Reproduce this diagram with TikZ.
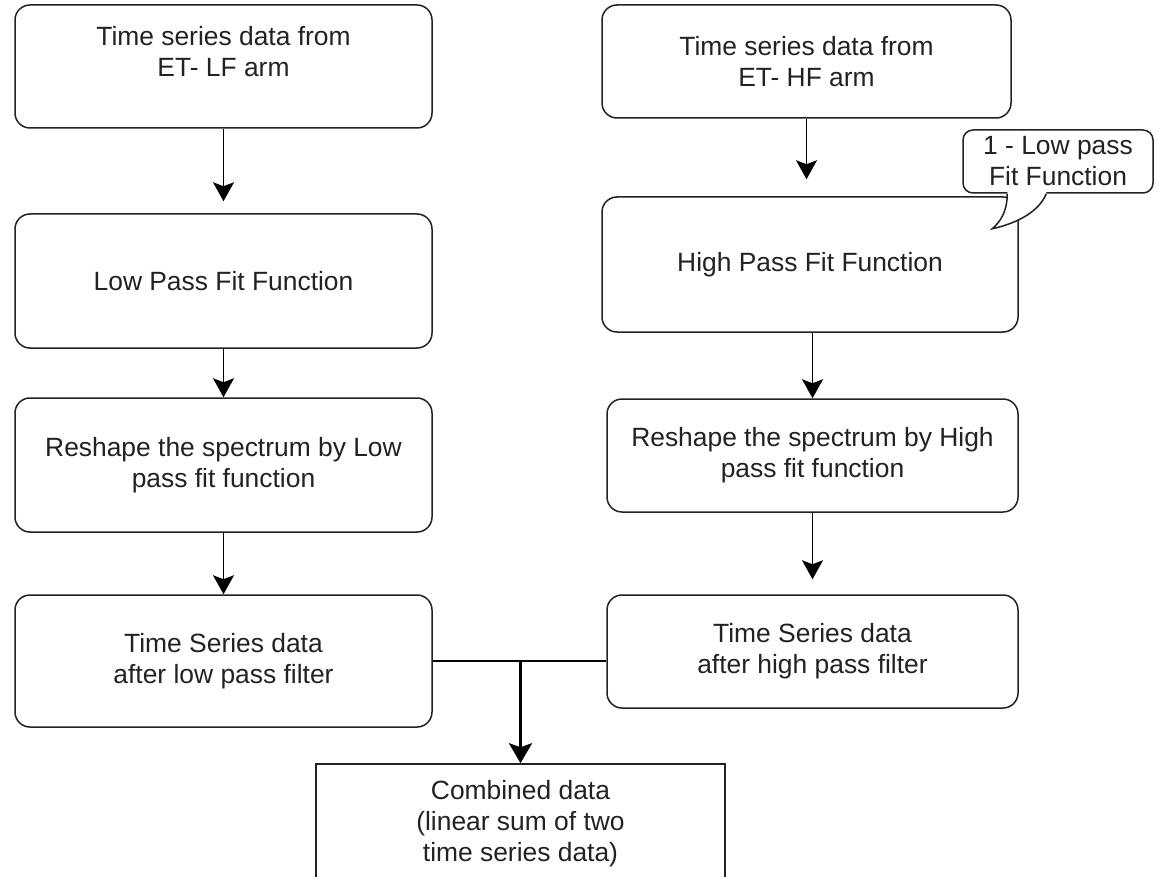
\documentclass[tikz,border=0pt]{standalone}
\usepackage{fontspec}
\setmainfont{Liberation Sans}
\usetikzlibrary{calc,arrows.meta}
\definecolor{inkgray}{RGB}{34,34,34}

\begin{document}
\begin{tikzpicture}[x=1pt, y=-1pt,
	flowbox/.style={draw=inkgray, line width=1.5pt, rounded corners=15pt, fill=white, align=center, inner sep=0pt, text=inkgray, font=\fontsize{26.4}{31}\selectfont},
	combobox/.style={flowbox, rounded corners=0pt},
	notebox/.style={flowbox, rounded corners=10pt},
	flowarrow/.style={draw=black, line width=1.5pt, -{Stealth[length=19pt, width=21pt, inset=4pt]}},
	joinarrow/.style={draw=black, line width=3pt, -{Stealth[length=20pt, width=23pt, inset=4pt]}}]
	\clip (0,0) rectangle (1159,877);
	\fill[white] (0,0) rectangle (1159,877);
	\node[flowbox, minimum width=417pt, minimum height=123pt] (lfdata) at (223.5,66.5) {Time series data from\\ET- LF arm\\\mbox{}};
	\node[flowbox, minimum width=417pt, minimum height=134pt] (lowpass) at (223.5,281) {Low Pass Fit Function};
	\node[flowbox, minimum width=417pt, minimum height=134pt] (lfreshape) at (223.5,465) {Reshape the spectrum by Low\\pass fit function};
	\node[flowbox, minimum width=417pt, minimum height=132pt] (lffiltered) at (223.5,661) {Time Series data\\after low pass filter};
	\node[flowbox, minimum width=409pt, minimum height=113pt] (hfdata) at (806.5,61.5) {Time series data from\\ET- HF arm};
	\node[flowbox, minimum width=416pt, minimum height=135pt] (highpass) at (810,264.5) {High Pass Fit Function};
	\node[flowbox, minimum width=411pt, minimum height=113pt] (hfreshape) at (812.5,455.5) {Reshape the spectrum by High\\pass fit function};
	\node[flowbox, minimum width=411pt, minimum height=113pt] (hffiltered) at (812.5,651.5) {Time Series data\\after high pass filter};
	\node[combobox, minimum width=409pt, minimum height=120pt] (combined) at (520.5,824) {Combined data\\(linear sum of two\\time series data)};
	\node[notebox, minimum width=190pt, minimum height=63pt] (lowpassnote) at (1058,161.5) {1 - Low pass\\Fit Function};
	\fill[white] ($(lowpassnote.south west)+(45,-2)$) -- ($(lowpassnote.south west)+(45,0)$)
		.. controls ($(lowpassnote.south west)+(45,19)$) and ($(lowpassnote.south west)+(37,29)$) .. ($(lowpassnote.south west)+(30,35)$)
		.. controls ($(lowpassnote.south west)+(57,29)$) and ($(lowpassnote.south west)+(77,17)$) .. ($(lowpassnote.south west)+(84,0)$)
		-- ($(lowpassnote.south west)+(84,-2)$) -- cycle;
	\draw[draw=inkgray, line width=1.5pt] ($(lowpassnote.south west)+(45,0)$)
		.. controls ($(lowpassnote.south west)+(45,19)$) and ($(lowpassnote.south west)+(37,29)$) .. ($(lowpassnote.south west)+(30,35)$)
		.. controls ($(lowpassnote.south west)+(57,29)$) and ($(lowpassnote.south west)+(77,17)$) .. ($(lowpassnote.south west)+(84,0)$);
	\draw[flowarrow, shorten >=12pt] (lfdata.south) -- (lowpass.north);
	\draw[flowarrow] (lowpass.south) -- (lfreshape.north);
	\draw[flowarrow] (lfreshape.south) -- (lffiltered.north);
	\draw[flowarrow, shorten >=17pt] (hfdata.south) -- (hfdata.south |- highpass.north);
	\draw[flowarrow] (highpass.south -| hfreshape.north) -- (hfreshape.north);
	\draw[flowarrow, shorten >=15pt] (hfreshape.south) -- (hffiltered.north);
	\coordinate (join) at (lffiltered.east -| combined.north);
	\draw[draw=black, line width=1.5pt] (lffiltered.east) -- (lffiltered.east -| hffiltered.west);
	\draw[joinarrow] (join) -- (combined.north);
\end{tikzpicture}
\end{document}
